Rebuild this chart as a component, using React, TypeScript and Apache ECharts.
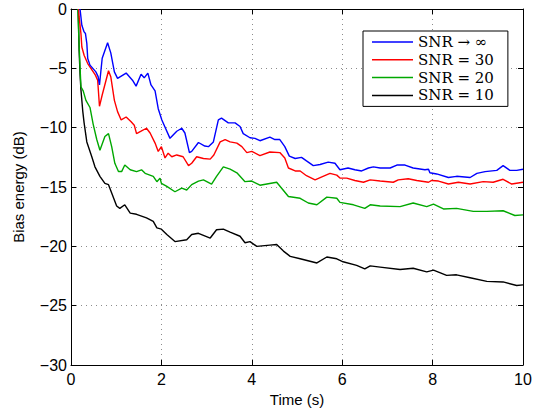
import React, { useEffect, useRef } from "react";
import * as echarts from "echarts";

const xTicks = [0, 2, 4, 6, 8, 10];
const seriesNames = ["SNR → ∞", "SNR = 30", "SNR = 20", "SNR = 10"];
const seriesColors = ["#0000ff", "#ff0000", "#00a800", "#000000"];

const snrInf: [number, number][] = [
  [0.2, 0], [0.24, -1.37], [0.29, -1.93], [0.32, -2.07], [0.35, -2.9], [0.37, -4.17], [0.42, -4.73], [0.55, -5.3],
  [0.6, -5.7], [0.63, -6.4], [0.69, -4.15], [0.81, -2.85], [0.88, -3.7], [0.96, -5.3], [1.03, -5.85], [1.22, -5.4],
  [1.36, -6.0], [1.44, -6.5], [1.55, -5.5], [1.62, -5.8], [1.7, -5.4], [1.77, -6.4], [1.86, -6.9], [1.93, -8.4],
  [2.01, -9.35], [2.19, -10.9], [2.34, -10.3], [2.45, -10.05], [2.52, -10.45], [2.62, -12.1], [2.67, -12.0],
  [2.82, -11.25], [2.96, -11.55], [3.04, -11.6], [3.15, -11.2], [3.26, -9.35], [3.33, -9.2], [3.48, -9.6],
  [3.63, -9.6], [3.74, -9.9], [3.81, -10.5], [3.96, -10.85], [4.07, -10.9], [4.18, -11.1], [4.4, -10.8],
  [4.51, -11.0], [4.62, -11.0], [4.73, -11.6], [4.83, -12.4], [4.96, -12.6], [5.1, -12.5], [5.21, -12.8],
  [5.36, -13.2], [5.51, -13.1], [5.69, -12.9], [5.84, -13.0], [5.95, -13.55], [6.13, -13.4], [6.28, -13.55],
  [6.43, -13.65], [6.58, -13.4], [6.69, -13.3], [6.84, -13.4], [7.06, -13.4], [7.21, -13.15], [7.39, -13.15],
  [7.57, -13.4], [7.83, -13.55], [7.91, -13.5], [7.94, -13.8], [8.09, -13.9], [8.35, -14.2], [8.53, -14.1],
  [8.83, -14.2], [8.98, -13.85], [9.16, -13.7], [9.42, -13.6], [9.56, -13.2], [9.71, -13.6], [9.86, -13.6],
  [10.0, -13.5],
];

const snr30: [number, number][] = [
  [0.17, 0], [0.18, -0.67], [0.22, -2.07], [0.24, -3.2], [0.29, -3.9], [0.37, -4.6], [0.44, -5.0], [0.54, -5.57],
  [0.59, -6.0], [0.63, -8.2], [0.69, -7.25], [0.83, -5.2], [0.88, -5.7], [0.96, -7.7], [1.03, -8.65], [1.11, -9.35],
  [1.22, -9.1], [1.33, -9.5], [1.4, -9.8], [1.45, -10.5], [1.55, -10.3], [1.67, -10.05], [1.75, -10.45],
  [1.86, -11.3], [1.93, -12.0], [2.0, -11.6], [2.08, -12.55], [2.15, -12.15], [2.23, -12.45], [2.34, -12.3],
  [2.48, -12.45], [2.6, -13.2], [2.67, -13.0], [2.78, -12.45], [2.93, -12.6], [3.08, -12.65], [3.16, -12.3],
  [3.3, -11.2], [3.41, -11.0], [3.52, -11.2], [3.67, -11.3], [3.78, -11.6], [3.89, -12.1], [4.0, -12.0],
  [4.18, -12.35], [4.4, -12.05], [4.62, -12.1], [4.73, -12.55], [4.81, -13.4], [4.96, -13.65], [5.07, -13.65],
  [5.21, -14.05], [5.4, -14.4], [5.55, -14.15], [5.73, -13.85], [5.88, -14.0], [5.95, -14.25], [6.1, -14.25],
  [6.28, -14.45], [6.47, -14.6], [6.62, -14.4], [6.84, -14.5], [7.13, -14.6], [7.24, -14.4], [7.46, -14.3],
  [7.65, -14.45], [7.91, -14.6], [7.98, -14.45], [8.13, -14.5], [8.35, -14.75], [8.57, -14.6], [8.83, -14.75],
  [9.12, -14.55], [9.34, -14.6], [9.56, -14.35], [9.75, -14.75], [10.0, -14.6],
];

const snr20: [number, number][] = [
  [0.15, 0], [0.17, -2.1], [0.2, -4.9], [0.22, -6.55], [0.27, -6.9], [0.33, -7.7], [0.42, -8.3], [0.49, -9.7],
  [0.57, -11.0], [0.64, -11.9], [0.75, -10.75], [0.83, -10.5], [0.9, -11.6], [0.97, -13.0], [1.05, -13.7],
  [1.12, -13.7], [1.19, -13.15], [1.31, -13.55], [1.45, -13.7], [1.56, -13.55], [1.64, -13.85], [1.82, -14.1],
  [1.9, -14.55], [1.97, -14.25], [2.0, -14.7], [2.12, -14.95], [2.3, -15.4], [2.45, -15.1], [2.56, -15.25],
  [2.67, -14.8], [2.82, -14.5], [2.93, -14.4], [3.11, -14.75], [3.22, -14.1], [3.37, -13.3], [3.52, -13.5],
  [3.67, -13.8], [3.85, -14.55], [4.0, -14.5], [4.18, -14.85], [4.55, -14.6], [4.66, -15.1], [4.81, -15.8],
  [5.07, -15.95], [5.25, -16.35], [5.44, -16.5], [5.66, -15.85], [5.88, -15.95], [5.95, -16.3], [6.25, -16.5],
  [6.5, -16.8], [6.62, -16.5], [6.84, -16.6], [7.28, -16.65], [7.57, -16.35], [7.87, -16.65], [8.02, -16.45],
  [8.24, -16.85], [8.53, -16.8], [8.9, -17.05], [9.2, -17.05], [9.56, -17.0], [9.82, -17.4], [10.0, -17.35],
];

const snr10: [number, number][] = [
  [0.16, 0], [0.18, -3.5], [0.2, -5.5], [0.22, -6.8], [0.26, -8.6], [0.29, -9.6], [0.35, -11.2], [0.46, -12.45],
  [0.53, -13.3], [0.64, -14.1], [0.75, -14.7], [0.83, -14.8], [0.9, -15.5], [1.01, -16.6], [1.08, -16.8],
  [1.19, -16.5], [1.31, -17.2], [1.45, -17.3], [1.67, -17.6], [1.82, -17.9], [1.9, -18.45], [2.0, -18.55],
  [2.12, -19.0], [2.3, -19.6], [2.56, -19.45], [2.67, -19.0], [2.82, -18.9], [3.08, -19.3], [3.22, -18.6],
  [3.37, -18.55], [3.52, -18.8], [3.74, -19.15], [3.85, -19.7], [3.96, -19.6], [4.11, -20.0], [4.4, -19.9],
  [4.55, -19.85], [4.7, -20.4], [4.85, -20.85], [5.07, -21.05], [5.44, -21.4], [5.66, -20.9], [5.88, -21.05],
  [6.02, -21.3], [6.32, -21.6], [6.5, -21.9], [6.62, -21.65], [6.84, -21.75], [7.28, -21.95], [7.57, -21.85],
  [7.87, -22.15], [8.02, -22.0], [8.31, -22.45], [8.53, -22.4], [8.83, -22.65], [9.2, -22.95], [9.56, -23.0],
  [9.86, -23.3], [10.0, -23.25],
];

const seriesData = [snrInf, snr30, snr20, snr10];

export default function App() {
  const ref = useRef<HTMLDivElement>(null);
  useEffect(() => {
    if (!ref.current) return;
    const chart = echarts.init(ref.current, null, { renderer: "svg" });
    const font = "Liberation Sans";
    const tickLabel = { color: "#000", fontSize: 16, fontFamily: font };
    const split = { show: true, lineStyle: { color: "#8c8c8c", type: [1, 4] as any, width: 1 } };
    const axisLine = { show: true, onZero: false, lineStyle: { color: "#000", width: 1 } };
    const axisTick = { show: true, inside: true, length: 5, lineStyle: { color: "#000" } };
    chart.setOption({
      animation: false,
      backgroundColor: "#fff",
      grid: { left: 71, right: 20, top: 9, bottom: 48, containLabel: false },
      legend: {
        orient: "vertical",
        left: 363,
        top: 31,
        data: seriesNames,
        icon: "rect",
        backgroundColor: "#fff",
        borderColor: "#000",
        borderWidth: 1,
        borderRadius: 0,
        padding: [3.5, 14, 3.5, 9],
        itemWidth: 41,
        itemHeight: 1.5,
        itemGap: 2.8,
        textStyle: { color: "#000", fontSize: 15, fontFamily: "DejaVu Serif", padding: [0, 0, 0, 0] },
      },
      xAxis: [
        {
          type: "value",
          min: 0,
          max: 10,
          interval: 2,
          name: "Time (s)",
          nameLocation: "middle",
          nameGap: 26,
          nameTextStyle: { color: "#000", fontSize: 15, fontFamily: font },
          axisLine,
          axisTick,
          axisLabel: { ...tickLabel, margin: 6, formatter: (v: number) => (xTicks.includes(v) ? String(v) : "") },
          splitLine: split,
        },
        {
          type: "value",
          position: "top",
          min: 0,
          max: 10,
          interval: 2,
          axisLine,
          axisTick,
          axisLabel: { show: false },
          splitLine: { show: false },
        },
      ],
      yAxis: [
        {
          type: "value",
          min: -30,
          max: 0,
          interval: 5,
          name: "Bias energy (dB)",
          nameLocation: "middle",
          nameGap: 45,
          nameTextStyle: { color: "#000", fontSize: 15, fontFamily: font },
          axisLine,
          axisTick,
          axisLabel: { ...tickLabel, margin: 4, formatter: (v: number) => String(v).replace("-", "\u2212") },
          splitLine: split,
        },
        {
          type: "value",
          position: "right",
          min: -30,
          max: 0,
          interval: 5,
          axisLine,
          axisTick,
          axisLabel: { show: false },
          splitLine: { show: false },
        },
      ],
      series: seriesNames.map((name, i) => ({
        name,
        type: "line",
        data: seriesData[i],
        symbol: "none",
        clip: true,
        color: seriesColors[i],
        lineStyle: { color: seriesColors[i], width: 1.4 },
        z: 10 - i,
      })),
    });
    return () => chart.dispose();
  }, []);
  return <div ref={ref} style={{ width: 543, height: 413, position: "absolute", left: 0, top: 0 }} />;
}
